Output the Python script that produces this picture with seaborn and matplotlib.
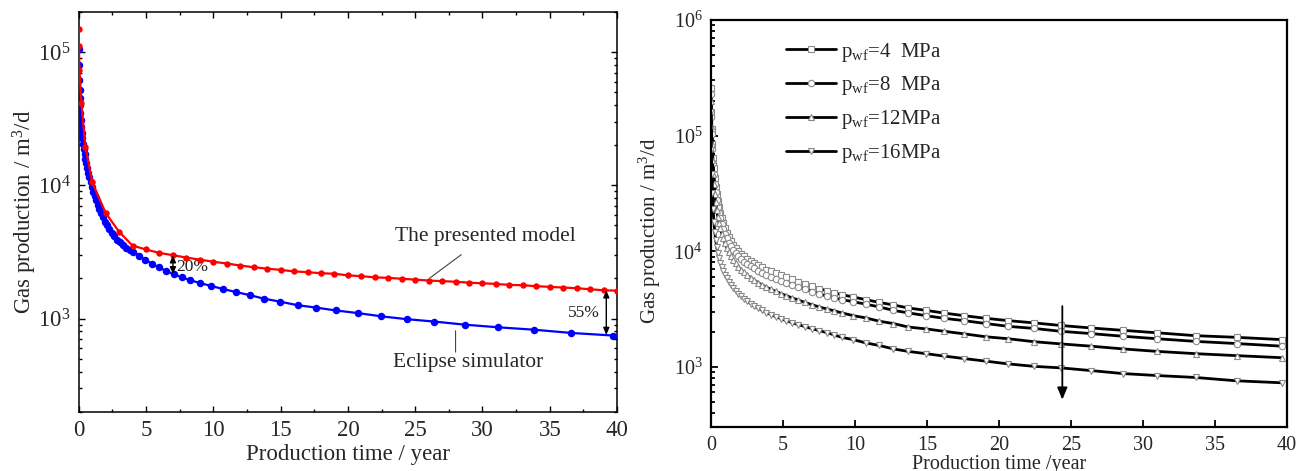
import numpy as np
import pandas as pd
import matplotlib
matplotlib.use("Agg")
import matplotlib.pyplot as plt
import seaborn as sns
from matplotlib.ticker import LogLocator, LogFormatterMathtext, MultipleLocator, NullFormatter

# ---------------- data (left panel) ----------------
t_model = [0.0, 0.02, 0.05, 0.2, 0.5, 1, 2, 3, 4, 5, 6, 7, 8, 9, 10, 11, 12, 13, 14, 15,
           16, 17, 18, 19, 20, 21, 22, 23, 24, 25, 26, 27, 28, 29, 30, 31, 32, 33, 34, 35,
           36, 37, 38, 39, 40]
q_model = [149600, 112000, 73600, 41500, 19300, 10600, 6210, 4480, 3530, 3300, 3110, 2990,
           2870, 2770, 2670, 2590, 2500, 2430, 2370, 2320, 2260, 2230, 2190, 2170, 2110,
           2080, 2040, 2020, 1990, 1960, 1930, 1910, 1890, 1860, 1840, 1820, 1790, 1780,
           1750, 1730, 1710, 1690, 1660, 1630, 1620]

t_ecl = [0.0, 0.02, 0.04, 0.06, 0.08, 0.1, 0.13, 0.16, 0.2, 0.24,
         0.28, 0.33, 0.38, 0.44, 0.5, 0.57, 0.64, 0.72, 0.8, 0.89,
         0.98, 1.08, 1.18, 1.29, 1.4, 1.52, 1.65, 1.79, 1.94, 2.1,
         2.27, 2.45, 2.64, 2.85, 3.07, 3.3, 3.55, 3.8, 4.07, 4.5,
         4.95, 5.45, 5.95, 6.5, 7.05, 7.65, 8.3, 9.0, 9.8, 10.7,
         11.7, 12.7, 13.77, 14.96, 16.26, 17.62, 19.11, 20.73, 22.47, 24.36,
         26.4, 28.7, 31.17, 33.83, 36.6, 39.7]
q_ecl = [105000, 80000, 62000, 52000, 45000, 40000, 35000, 31000, 27500, 24500,
         22500, 20500, 18800, 17200, 15900, 14600, 13500, 12400, 11500, 10600,
         9700, 8950, 8300, 7700, 7150, 6650, 6200, 5750, 5350, 5000,
         4680, 4400, 4150, 3920, 3740, 3560, 3400, 3270, 3170, 2960,
         2760, 2580, 2420, 2280, 2150, 2040, 1940, 1850, 1760, 1670,
         1580, 1500, 1410, 1340, 1260, 1210, 1150, 1100, 1040, 990,
         950, 900, 860, 825, 780, 746]

# ---------------- data (right panel) ----------------
t_pwf = [0.0, 0.03, 0.06, 0.1, 0.15, 0.2, 0.26, 0.33, 0.4, 0.48,
         0.56, 0.65, 0.75, 0.86, 0.98, 1.1, 1.24, 1.39, 1.55, 1.72,
         1.9, 2.1, 2.3, 2.52, 2.75, 3.0, 3.27, 3.55, 3.85, 4.17,
         4.5, 4.86, 5.24, 5.64, 6.06, 6.52, 7.0, 7.5, 8.03, 8.55,
         9.08, 9.88, 10.76, 11.69, 12.66, 13.7, 14.93, 16.18, 17.57, 19.08,
         20.65, 22.43, 24.28, 26.37, 28.59, 30.99, 33.66, 36.51, 39.63]
q_4 = [260000, 160000, 115000, 85000, 64000, 52000, 43000, 36000, 31000, 27000,
       24000, 21500, 19300, 17400, 15800, 14500, 13300, 12300, 11400, 10700,
       10100, 9550, 9100, 8650, 8250, 7900, 7550, 7250, 6950, 6700,
       6450, 6200, 5950, 5700, 5450, 5200, 4980, 4760, 4550, 4370,
       4210, 4020, 3810, 3610, 3430, 3230, 3080, 2920, 2770, 2630,
       2510, 2400, 2280, 2170, 2070, 1970, 1860, 1800, 1720]
q_8 = [230000, 145000, 103000, 76000, 57500, 46500, 38500, 32300, 27800, 24200,
       21500, 19300, 17300, 15600, 14200, 13000, 11900, 11000, 10200, 9600,
       9050, 8550, 8150, 7750, 7400, 7100, 6800, 6500, 6250, 6000,
       5800, 5570, 5350, 5130, 4900, 4680, 4480, 4280, 4100, 3950,
       3810, 3660, 3480, 3300, 3080, 2930, 2770, 2630, 2510, 2370,
       2240, 2150, 2030, 1940, 1840, 1750, 1660, 1590, 1510]
q_12 = [200000, 120000, 85000, 62000, 47000, 38000, 31500, 26500, 22800, 19800,
        17600, 15800, 14200, 12900, 11700, 10700, 9800, 9050, 8400, 7850,
        7350, 6900, 6550, 6200, 5900, 5620, 5350, 5100, 4880, 4680,
        4490, 4300, 4120, 3950, 3780, 3610, 3450, 3300, 3170, 3050,
        2930, 2770, 2650, 2480, 2370, 2210, 2130, 2030, 1930, 1820,
        1750, 1650, 1580, 1510, 1430, 1360, 1300, 1250, 1200]
q_16 = [160000, 75000, 47000, 32000, 23000, 18000, 14700, 12400, 10800, 9600,
        8700, 7950, 7300, 6750, 6250, 5850, 5450, 5100, 4800, 4550,
        4300, 4080, 3880, 3700, 3530, 3370, 3220, 3080, 2950, 2830,
        2720, 2610, 2510, 2410, 2320, 2230, 2140, 2060, 1980, 1890,
        1800, 1720, 1610, 1530, 1430, 1360, 1300, 1240, 1180, 1120,
        1060, 1010, 980, 929, 875, 841, 809, 757, 728]

pwf_labels = [r"$\mathregular{p_{wf}}$=4  MPa", r"$\mathregular{p_{wf}}$=8  MPa",
              r"$\mathregular{p_{wf}}$=12MPa", r"$\mathregular{p_{wf}}$=16MPa"]
pwf_markers = ["s", "o", "^", "v"]

# ---------------- style ----------------
sns.set_theme(style="ticks")
plt.rcParams["font.family"] = ["Liberation Serif", "DejaVu Serif"]
plt.rcParams["mathtext.fontset"] = "custom"
plt.rcParams["mathtext.rm"] = "Liberation Serif"
plt.rcParams["mathtext.it"] = "Liberation Serif:italic"
plt.rcParams["mathtext.bf"] = "Liberation Serif:bold"

fig = plt.figure(figsize=(13.01, 4.71), dpi=100)
axL = fig.add_axes([0.0605, 0.1259, 0.4138, 0.8486])
axR = fig.add_axes([0.5465, 0.0928, 0.4427, 0.8647])

# ---------------- left panel ----------------
dfm = pd.DataFrame({"t": t_model, "q": q_model})
dfe = pd.DataFrame({"t": t_ecl, "q": q_ecl})
sns.lineplot(data=dfe, x="t", y="q", ax=axL, color="#0000ff", marker="o",
             markersize=5.4, markeredgewidth=0, linewidth=1.6, zorder=3)
sns.lineplot(data=dfm, x="t", y="q", ax=axL, color="#ff0000", marker="o",
             markersize=4.6, markeredgewidth=0, linewidth=1.6, zorder=4)
axL.set_yscale("log")
axL.set_xlim(0, 40)
axL.set_ylim(200, 2.0e5)
axL.xaxis.set_major_locator(MultipleLocator(5))
axL.xaxis.set_minor_locator(MultipleLocator(2.5))
axL.yaxis.set_major_locator(LogLocator(base=10, numticks=10))
axL.yaxis.set_major_formatter(LogFormatterMathtext())
axL.yaxis.set_minor_locator(LogLocator(base=10, subs=np.arange(2, 10), numticks=20))
axL.yaxis.set_minor_formatter(NullFormatter())
axL.tick_params(which="both", direction="in", top=True, right=True, color="black",
                labelsize=16.5, pad=6, width=1.0)
axL.tick_params(which="major", length=4)
axL.tick_params(which="minor", length=2.5)
for s in axL.spines.values():
    s.set_linewidth(1.1)
    s.set_color("black")
axL.set_xlabel("Production time / year", fontsize=16.5, labelpad=2)
axL.set_ylabel(r"Gas production / m$\mathregular{^3}$/d", fontsize=16.5, labelpad=-1)

# 20% arrow at t = 7
i_m7 = t_model.index(7)
i_e7 = t_ecl.index(7.05)
axL.annotate("", xy=(7, q_ecl[i_e7]), xytext=(7, q_model[i_m7]),
             arrowprops=dict(arrowstyle="<|-|>,head_length=0.35,head_width=0.15",
                             color="black", lw=1.0, shrinkA=0, shrinkB=0), zorder=6)
axL.text(7.25, 2420, "20%", fontsize=12.5, color="#222222", va="center", ha="left")
# 55% arrow near the end
i_m39 = t_model.index(39)
axL.annotate("", xy=(39.2, q_ecl[-1] * 1.01), xytext=(39.2, q_model[i_m39]),
             arrowprops=dict(arrowstyle="<|-|>,head_length=0.35,head_width=0.15",
                             color="black", lw=1.0, shrinkA=0, shrinkB=0), zorder=6)
axL.text(38.75, 1100, "55%", fontsize=12.5, color="#222222", va="center", ha="right")
# callouts
axL.annotate("The presented model", xy=(26.0, 1985), xytext=(30.2, 4100),
             fontsize=15.5, ha="center", va="center",
             arrowprops=dict(arrowstyle="-", color="#444444", lw=0.8,
                             shrinkA=6, shrinkB=1))
axL.text(28.9, 470, "Eclipse simulator", fontsize=15.5, ha="center", va="center")
axL.annotate("", xy=(28.0, 850), xytext=(28.0, 560),
             arrowprops=dict(arrowstyle="-", color="#444444", lw=0.8,
                             shrinkA=0, shrinkB=2))

# ---------------- right panel ----------------
for q, lab, mk in zip([q_4, q_8, q_12, q_16], pwf_labels, pwf_markers):
    dfr = pd.DataFrame({"t": t_pwf, "q": q})
    sns.lineplot(data=dfr, x="t", y="q", ax=axR, color="black", linewidth=2.0,
                 marker=mk, markersize=4.6, markerfacecolor="white",
                 markeredgecolor="#8a8a8a", markeredgewidth=0.8, label=lab)
axR.set_yscale("log")
axR.set_xlim(0, 40)
axR.set_ylim(300, 1.0e6)
axR.xaxis.set_major_locator(MultipleLocator(5))
axR.yaxis.set_major_locator(LogLocator(base=10, numticks=10))
axR.yaxis.set_major_formatter(LogFormatterMathtext())
axR.yaxis.set_minor_locator(LogLocator(base=10, subs=np.arange(2, 10), numticks=20))
axR.yaxis.set_minor_formatter(NullFormatter())
axR.tick_params(which="both", direction="in", top=False, right=False, color="black",
                labelsize=14.5, pad=6, width=1.3)
axR.tick_params(which="major", length=5)
axR.tick_params(which="minor", length=3)
for s in axR.spines.values():
    s.set_linewidth(1.6)
    s.set_color("black")
axR.set_xlabel("Production time /year", fontsize=14.5, labelpad=0)
axR.set_ylabel(r"Gas production / m$\mathregular{^3}$/d", fontsize=15)
axR.yaxis.set_label_coords(-0.083, 0.483)
axR.annotate("", xy=(24.4, 520), xytext=(24.4, 3350),
             arrowprops=dict(arrowstyle="-|>,head_length=0.6,head_width=0.25",
                             color="black", lw=1.3, shrinkA=0, shrinkB=0), zorder=6)
leg = axR.legend(loc="upper left", bbox_to_anchor=(0.115, 0.97), frameon=False,
                 fontsize=15, handlelength=2.4, handletextpad=0.25, labelspacing=0.52,
                 borderaxespad=0)

fig.savefig("out.png", dpi=100)
